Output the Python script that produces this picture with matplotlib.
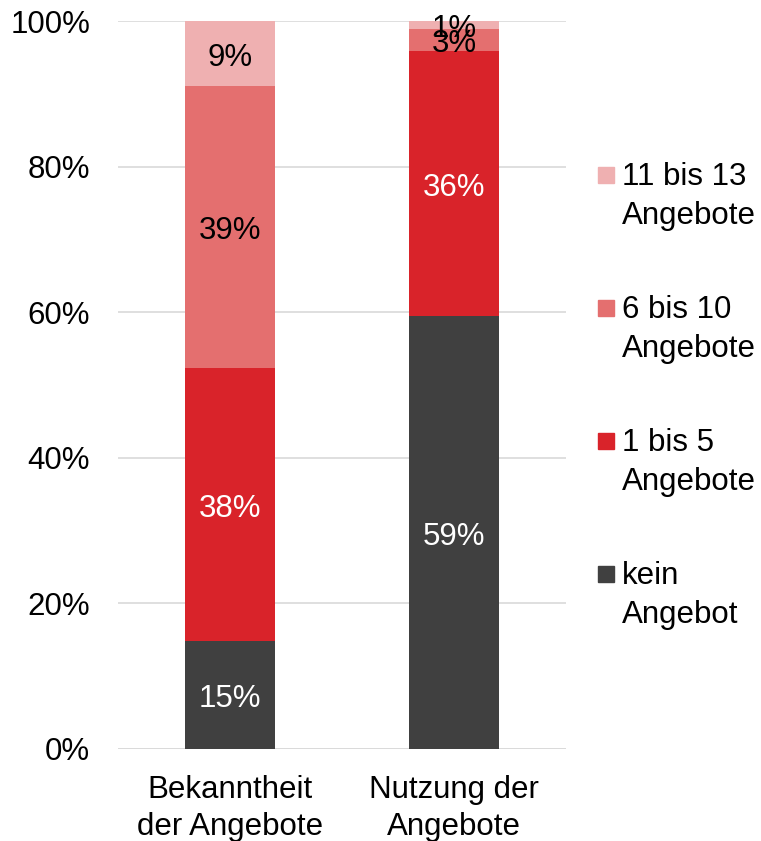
import matplotlib.pyplot as plt
from matplotlib.patches import Rectangle

# data
categories = ['Bekanntheit\nder Angebote', 'Nutzung der\nAngebote']
series_names = ['kein\nAngebot', '1 bis 5\nAngebote', '6 bis 10\nAngebote', '11 bis 13\nAngebote']
kein = [14.8, 59.5]
bis5 = [37.5, 36.4]
bis10 = [38.8, 3.0]
bis13 = [8.9, 1.1]
labels_kein = ['15%', '59%']
labels_bis5 = ['38%', '36%']
labels_bis10 = ['39%', '3%']
labels_bis13 = ['9%', '1%']

colors = ['#404040', '#D9232A', '#E46F6F', '#EFB0B1']
text_colors = ['white', 'white', 'black', 'black']

plt.rcParams['font.family'] = ['Liberation Sans', 'DejaVu Sans']
fs = 22.5

fig = plt.figure(figsize=(7.61, 8.41), dpi=100)
ax = fig.add_axes([0.155, 0.1094, 0.589, 0.8656])

x = [0, 1]
bottom = [0, 0]
all_series = [kein, bis5, bis10, bis13]
all_labels = [labels_kein, labels_bis5, labels_bis10, labels_bis13]
for vals, labs, col, tcol in zip(all_series, all_labels, colors, text_colors):
    ax.bar(x, vals, 0.4, bottom=bottom, color=col, zorder=3)
    for i in range(2):
        ax.annotate(labs[i], (x[i], bottom[i] + vals[i] / 2), xytext=(0, -3),
                    textcoords='offset points', ha='center', va='center',
                    fontsize=fs, color=tcol, zorder=4)
    bottom = [bottom[i] + vals[i] for i in range(2)]

ax.set_xlim(-0.5, 1.5)
ax.set_ylim(0, 100)
ax.set_yticks([0, 20, 40, 60, 80, 100])
ax.set_yticklabels(['0%', '20%', '40%', '60%', '80%', '100%'])
ax.set_xticks(x)
ax.set_xticklabels(categories, linespacing=1.3)
ax.tick_params(length=0, labelsize=fs, colors='black')
ax.tick_params(axis='y', pad=20)
ax.tick_params(axis='x', pad=19)
ax.yaxis.grid(True, color='#d9d9d9', linewidth=1.2, zorder=0)
ax.set_axisbelow(True)
for s in ax.spines.values():
    s.set_visible(False)
ax.axhline(0, color='#d9d9d9', linewidth=1.2, zorder=2)

# legend drawn by hand
leg_y = [175, 308, 441, 574]
for name, col, yy in zip(series_names[::-1], colors[::-1], leg_y):
    fy = 1 - yy / 841
    fig.patches.append(Rectangle((598 / 761, fy - 8 / 841), 16 / 761, 16 / 841,
                                 transform=fig.transFigure, color=col))
    fig.text(622 / 761, fy + 13 / 841, name, fontsize=fs, va='top', ha='left',
             linespacing=1.4)

fig.savefig('out.png', dpi=100)
